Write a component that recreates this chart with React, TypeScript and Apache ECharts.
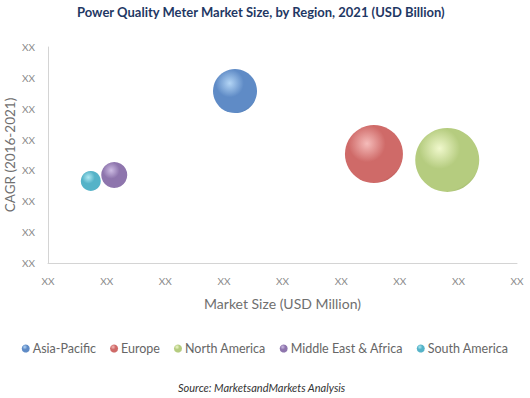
import React, { useEffect, useRef } from "react";
import * as echarts from "echarts";

const regions = ["Asia-Pacific", "Europe", "North America", "Middle East & Africa", "South America"];
const marketSize = [3.19, 5.56, 6.81, 1.13, 0.73];
const cagr = [5.57, 3.53, 3.34, 2.85, 2.66];
const bubbleSize = [44, 58, 64, 26, 20];
const baseColors = ["#5f8bc6", "#cf6a68", "#b5cc7f", "#8e75ad", "#55b3c8"];
const lightColors = ["#b3d5f5", "#f5bcba", "#f0f8cc", "#cdbce3", "#aee8f2"];
const darkColors = ["#476f9f", "#a74b49", "#8ea55a", "#6b558a", "#3d8ca2"];
const xTicks = ["XX", "XX", "XX", "XX", "XX", "XX", "XX", "XX", "XX"];
const yTicks = ["XX", "XX", "XX", "XX", "XX", "XX", "XX", "XX"];

export default function App() {
  const ref = useRef<HTMLDivElement>(null);
  useEffect(() => {
    if (!ref.current) return;
    const chart = echarts.init(ref.current, null, { renderer: "svg" });
    const font = "Lato, 'Open Sans', sans-serif";
    const series = regions.map((name, i) => ({
      name,
      type: "scatter",
      symbol: "circle",
      symbolSize: (v: number[]) => v[2],
      data: [[marketSize[i], cagr[i], bubbleSize[i]]],
      itemStyle: {
        opacity: 1,
        color: new echarts.graphic.RadialGradient(0.38, 0.32, 0.8, [
          { offset: 0, color: lightColors[i] },
          { offset: 0.4, color: baseColors[i] },
          { offset: 0.85, color: baseColors[i] },
          { offset: 1, color: darkColors[i] },
        ]),
      },
    }));
    chart.setOption({
      animation: false,
      backgroundColor: "#ffffff",
      title: {
        text: "Power Quality Meter Market Size, by Region, 2021 (USD Billion)",
        left: 72,
        top: 0,
        textStyle: { fontFamily: font, fontSize: 13, fontWeight: "bold", color: "#1f3864" },
      },
      grid: { left: 48, right: 13, top: 47, bottom: 135, containLabel: false, outerBoundsMode: "none" },
      xAxis: {
        type: "value",
        min: 0,
        max: 8,
        interval: 1,
        name: "Market Size (USD Million)",
        nameLocation: "middle",
        nameGap: 33,
        nameMoveOverlap: false,
        nameTextStyle: { fontFamily: font, fontSize: 14, color: "#6f6f6f" },
        axisLine: { show: true, lineStyle: { color: "#d4d4d4" } },
        axisTick: { show: false },
        splitLine: { show: false },
        axisLabel: {
          margin: 13,
          fontFamily: font,
          fontSize: 10,
          color: "#8a8a8a",
          formatter: (_v: number, idx: number) => xTicks[idx] ?? "",
        },
      },
      yAxis: {
        type: "value",
        min: 0,
        max: 7,
        interval: 1,
        name: "CAGR (2016-2021)",
        nameLocation: "middle",
        nameGap: 31,
        nameMoveOverlap: false,
        nameTextStyle: { fontFamily: font, fontSize: 13.5, color: "#6f6f6f" },
        axisLine: { show: true, lineStyle: { color: "#d4d4d4" } },
        axisTick: { show: false },
        splitLine: { show: false },
        axisLabel: {
          margin: 13,
          fontFamily: font,
          fontSize: 10,
          color: "#8a8a8a",
          formatter: (_v: number, idx: number) => yTicks[idx] ?? "",
        },
      },
      legend: {
        data: regions,
        top: 337,
        left: "center",
        icon: "circle",
        itemWidth: 8,
        itemHeight: 8,
        itemGap: 14,
        textStyle: { fontFamily: font, fontSize: 12.5, color: "#666666", padding: [0, 0, 0, -2] },
      },
      graphic: [
        {
          type: "text",
          left: 178,
          top: 382,
          style: {
            text: "Source: MarketsandMarkets Analysis",
            font: "italic 11px " + font,
            fill: "#333333",
          },
        },
      ],
      series,
    });
    return () => chart.dispose();
  }, []);
  return (
    <div
      ref={ref}
      style={{ position: "fixed", left: 0, top: 0, width: 530, height: 398, background: "#fff" }}
    />
  );
}
